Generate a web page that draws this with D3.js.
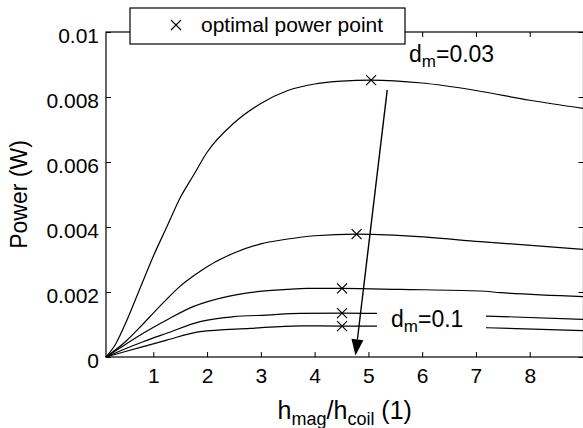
<!DOCTYPE html>
<html>
<head>
<meta charset="utf-8">
<script src="https://cdn.jsdelivr.net/npm/d3@7"></script>
<style>
body { margin: 0; background: #fff; }
text { font-family: "Liberation Sans", Arial, Helvetica, sans-serif; fill: #000; }
</style>
</head>
<body>
<div id="chart"></div>
<script>
var width = 583;
var height = 428;

// tick values
var xTicks = [1, 2, 3, 4, 5, 6, 7, 8];
var yTicks = [0, 0.002, 0.004, 0.006, 0.008, 0.01];
var yTickLabels = ["0", "0.002", "0.004", "0.006", "0.008", "0.01"];

// power curves, one per magnet distance d_m
var curve1 = [[0.12, 0], [0.3, 0.0004], [0.5, 0.0011], [0.75, 0.0021], [1.0, 0.0031], [1.25, 0.0040],
  [1.5, 0.0049], [1.75, 0.0056], [2.0, 0.0063], [2.5, 0.0072], [3.0, 0.0078], [3.5, 0.0082],
  [4.0, 0.0084], [4.5, 0.00849], [5.05, 0.00852], [6.0, 0.00843], [7.0, 0.0082], [8.0, 0.0079], [9.0, 0.00765]];
var curve2 = [[0.12, 0], [0.5, 0.0005], [0.8, 0.001], [1.0, 0.00135], [1.25, 0.00178], [1.5, 0.00218],
  [1.75, 0.0025], [2.0, 0.00278], [2.5, 0.0032], [3.0, 0.00348], [3.5, 0.00363], [4.0, 0.00373],
  [4.78, 0.00378], [5.78, 0.00372], [7.08, 0.00355], [9.0, 0.00331]];
var curve3 = [[0.12, 0], [0.4, 0.0003], [0.81, 0.00073], [1.25, 0.00114], [1.74, 0.00155], [2.37, 0.00186],
  [2.93, 0.00201], [3.48, 0.00208], [3.86, 0.00211], [4.51, 0.00211], [5.59, 0.00208], [7.08, 0.00203],
  [7.46, 0.00198], [9.0, 0.00186]];
var curve4 = [[0.12, 0], [0.4, 0.0002], [0.81, 0.00047], [1.25, 0.00073], [1.87, 0.00109], [2.49, 0.00124],
  [3.11, 0.00129], [3.73, 0.00134], [4.51, 0.00135], [5.2, 0.00134], [7.2, 0.00126], [9.0, 0.00116]];
var curve5 = [[0.12, 0], [0.4, 0.00013], [0.81, 0.00032], [1.25, 0.00052], [1.87, 0.00078], [2.8, 0.00088],
  [3.73, 0.00096], [4.51, 0.00095], [5.2, 0.00095], [7.2, 0.0009], [9.0, 0.00081]];
var curves = [curve1, curve2, curve3, curve4, curve5];

// optimal power points
var optimalX = [5.05, 4.78, 4.51, 4.51, 4.51];
var optimalY = [0.00852, 0.00378, 0.00211, 0.00135, 0.00095];

// arrow from d_m=0.03 to d_m=0.1
var arrowFrom = [5.35, 0.00822];
var arrowTo = [4.76, 0.00005];

var plotLeft = 106, plotRight = 583.5, plotTop = 32, plotBottom = 357;

var svg = d3.select("#chart")
    .append("svg")
    .attr("width", width)
    .attr("height", height);

var x = d3.scaleLinear().domain([0.12, 9]).range([plotLeft, plotRight]);
var y = d3.scaleLinear().domain([0, 0.01]).range([plotBottom, plotTop]);

// axes box
svg.append("rect")
    .attr("x", plotLeft).attr("y", plotTop)
    .attr("width", plotRight - plotLeft).attr("height", plotBottom - plotTop)
    .attr("fill", "none").attr("stroke", "#000").attr("stroke-width", 1.2);

var xAxis = svg.append("g")
    .attr("transform", "translate(0," + plotBottom + ")")
    .call(d3.axisBottom(x).tickValues(xTicks).tickSizeInner(-5).tickSizeOuter(0).tickPadding(11));
var xAxisTop = svg.append("g")
    .attr("transform", "translate(0," + plotTop + ")")
    .call(d3.axisTop(x).tickValues(xTicks).tickSizeInner(-5).tickSizeOuter(0).tickFormat(""));
var yAxis = svg.append("g")
    .attr("transform", "translate(" + plotLeft + ",0)")
    .call(d3.axisLeft(y).tickValues(yTicks).tickSizeInner(-5).tickSizeOuter(0).tickPadding(7)
        .tickFormat(function (d, i) { return yTickLabels[i]; }));
var yAxisRight = svg.append("g")
    .attr("transform", "translate(" + plotRight + ",0)")
    .call(d3.axisRight(y).tickValues(yTicks).tickSizeInner(-5).tickSizeOuter(0).tickFormat(""));

svg.selectAll(".domain").remove();
svg.selectAll(".tick line").attr("stroke", "#000").attr("stroke-width", 1);
svg.selectAll(".tick text").attr("font-size", 21).attr("font-family", null);
yAxis.selectAll(".tick text").attr("dy", "0.5em");

// curves
var line = d3.line()
    .x(function (d) { return x(d[0]); })
    .y(function (d) { return y(d[1]); })
    .curve(d3.curveMonotoneX);

svg.selectAll(".curve")
    .data(curves)
    .enter().append("path")
    .attr("class", "curve")
    .attr("fill", "none")
    .attr("stroke", "#000")
    .attr("stroke-width", 1.2)
    .attr("d", line);

// optimal point markers
function cross(g, cx, cy, s) {
    g.append("path")
        .attr("d", "M" + (cx - s) + "," + (cy - s) + "L" + (cx + s) + "," + (cy + s) +
            "M" + (cx - s) + "," + (cy + s) + "L" + (cx + s) + "," + (cy - s))
        .attr("stroke", "#000").attr("stroke-width", 1.2).attr("fill", "none");
}
optimalX.forEach(function (d, i) { cross(svg, x(d), y(optimalY[i]), 5); });

// arrow
var ax0 = x(arrowFrom[0]), ay0 = y(arrowFrom[1]);
var ax1 = x(arrowTo[0]), ay1 = y(arrowTo[1]);
var len = Math.hypot(ax1 - ax0, ay1 - ay0);
var ux = (ax1 - ax0) / len, uy = (ay1 - ay0) / len;
var headLen = 16, headHalf = 6;
var bx = ax1 - ux * headLen, by = ay1 - uy * headLen;
svg.append("line")
    .attr("x1", ax0).attr("y1", ay0).attr("x2", bx).attr("y2", by)
    .attr("stroke", "#000").attr("stroke-width", 1.4);
svg.append("path")
    .attr("d", "M" + ax1 + "," + ay1 + "L" + (bx - uy * headHalf) + "," + (by + ux * headHalf) +
        "L" + (bx + uy * headHalf) + "," + (by - ux * headHalf) + "Z")
    .attr("fill", "#000");

// d_m labels
svg.append("rect")
    .attr("x", 377).attr("y", 300).attr("width", 109).attr("height", 48)
    .attr("fill", "#fff");
function dmLabel(tx, ty, value) {
    var t = svg.append("text").attr("x", tx).attr("y", ty).attr("font-size", 23);
    t.append("tspan").text("d");
    t.append("tspan").attr("font-size", 17).attr("dy", 5).text("m");
    t.append("tspan").attr("dy", -5).text("=" + value);
}
dmLabel(409, 62, "0.03");
dmLabel(391, 327, "0.1");

// legend
svg.append("rect")
    .attr("x", 130).attr("y", 8).attr("width", 275).attr("height", 36)
    .attr("fill", "#fff").attr("stroke", "#000").attr("stroke-width", 1.2);
cross(svg, 176, 25, 5);
svg.append("text").attr("x", 201).attr("y", 32).attr("font-size", 21).text("optimal power point");

// axis titles
var xt = svg.append("text")
    .attr("x", (plotLeft + plotRight) / 2).attr("y", 419)
    .attr("text-anchor", "middle").attr("font-size", 25);
xt.append("tspan").text("h");
xt.append("tspan").attr("font-size", 18).attr("dy", 6).text("mag");
xt.append("tspan").attr("dy", -6).text("/h");
xt.append("tspan").attr("font-size", 18).attr("dy", 6).text("coil");
xt.append("tspan").attr("dy", -6).text(" (1)");

svg.append("text")
    .attr("transform", "translate(27," + (plotTop + plotBottom) / 2 + ") rotate(-90)")
    .attr("text-anchor", "middle").attr("font-size", 23)
    .text("Power (W)");
</script>
</body>
</html>
